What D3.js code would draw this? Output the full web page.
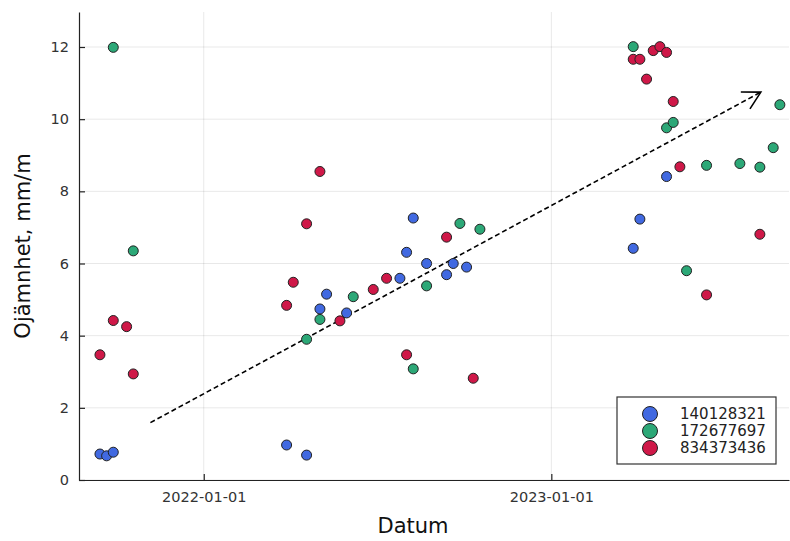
<!DOCTYPE html>
<html>
<head>
<meta charset="utf-8">
<script src="https://cdn.jsdelivr.net/npm/d3@7"></script>
<style>
  body { margin: 0; background: #fff; }
  svg text { font-family: "DejaVu Sans", sans-serif; }
</style>
</head>
<body>
<div class="chart"></div>
<script>
// series 140128321
const blueDates = ["2021-09-14","2021-09-21","2021-09-28","2022-03-29","2022-04-19","2022-05-03","2022-05-10","2022-05-31",
  "2022-07-26","2022-08-02","2022-08-09","2022-08-23","2022-09-13","2022-09-20","2022-10-04",
  "2023-03-28","2023-04-04","2023-05-02"]
const blueVals = [0.72,0.67,0.77,0.97,0.69,4.74,5.15,4.63,5.59,6.31,7.26,6.0,5.69,6.0,5.9,6.42,7.23,8.41]

// series 172677697
const greenDates = ["2021-09-28","2021-10-19","2022-04-19","2022-05-03","2022-06-07","2022-08-09","2022-08-23","2022-09-27","2022-10-18",
  "2023-03-28","2023-05-02","2023-05-09","2023-05-23","2023-06-13","2023-07-18","2023-08-08","2023-08-22","2023-08-29"]
const greenVals = [11.99,6.35,3.90,4.45,5.08,3.08,5.38,7.11,6.95,12.01,9.76,9.91,5.80,8.72,8.77,8.67,9.21,10.40]

// series 834373436
const redDates = ["2021-09-14","2021-09-28","2021-10-12","2021-10-19","2022-03-29","2022-04-05","2022-04-19","2022-05-03",
  "2022-05-24","2022-06-28","2022-07-12","2022-08-02","2022-09-13","2022-10-11",
  "2023-03-28","2023-04-04","2023-04-11","2023-04-18","2023-04-25","2023-05-02","2023-05-09","2023-05-16","2023-06-13","2023-08-08"]
const redVals = [3.47,4.42,4.25,2.94,4.84,5.48,7.10,8.55,4.41,5.28,5.59,3.47,6.73,2.82,
  11.66,11.66,11.11,11.90,12.01,11.85,10.49,8.68,5.13,6.81]

const seriesNames = ["140128321","172677697","834373436"]
const seriesColors = ["#4169e1","#2ca877","#cf1848"]

// trend arrow
const arrowDates = ["2021-11-06","2023-08-09"]
const arrowVals = [1.59,10.75]

const yTicks = [0,2,4,6,8,10,12]
const xTicks = ["2022-01-01","2023-01-01"]

const parse = d3.timeParse("%Y-%m-%d")

const W = 790, H = 541
const margin = { top: 12, right: 1, bottom: 61, left: 79 }
const width = W - margin.left - margin.right
const height = H - margin.top - margin.bottom

const x = d3.scaleTime()
  .domain([new Date(2021, 7, 23, 0), new Date(2023, 8, 7, 14)])
  .range([0, width])
const y = d3.scaleLinear().domain([0, 12.97]).range([height, 0])

const svg = d3.select('.chart').append('svg')
  .attr('width', W).attr('height', H)
const g = svg.append('g').attr('transform', `translate(${margin.left},${margin.top})`)

// grid
g.append('g').selectAll('line').data(yTicks).enter().append('line')
  .attr('x1', 0).attr('x2', width)
  .attr('y1', d => y(d)).attr('y2', d => y(d))
  .attr('stroke', '#000').attr('stroke-opacity', 0.09).attr('stroke-width', 1)
g.append('g').selectAll('line').data(xTicks).enter().append('line')
  .attr('x1', d => x(parse(d))).attr('x2', d => x(parse(d)))
  .attr('y1', 0).attr('y2', height)
  .attr('stroke', '#000').attr('stroke-opacity', 0.09).attr('stroke-width', 1)

// axes
const yAxis = d3.axisLeft(y).tickValues(yTicks).tickSizeInner(-6).tickSizeOuter(0).tickPadding(10)
const ya = g.append('g').call(yAxis)
const xAxis = d3.axisBottom(x).tickValues(xTicks.map(parse)).tickFormat(d3.timeFormat("%Y-%m-%d"))
  .tickSizeInner(-6).tickSizeOuter(0).tickPadding(12)
const xa = g.append('g').attr('transform', `translate(0,${height})`).call(xAxis)
;[ya, xa].forEach(a => {
  a.attr('font-family', null)
  a.select('.domain').attr('stroke', '#222').attr('stroke-width', 1.2)
  a.selectAll('.tick line').attr('stroke', '#222').attr('stroke-width', 1.2)
  a.selectAll('.tick text').attr('fill', '#333').attr('font-size', '14.5px')
})

// trend arrow
const ax1 = x(parse(arrowDates[0])), ay1 = y(arrowVals[0])
const ax2 = x(parse(arrowDates[1])), ay2 = y(arrowVals[1])
g.append('line')
  .attr('x1', ax1).attr('y1', ay1).attr('x2', ax2).attr('y2', ay2)
  .attr('stroke', '#000').attr('stroke-width', 1.6).attr('stroke-dasharray', '5,3')
const ang = Math.atan2(ay2 - ay1, ax2 - ax1)
const hl = 20, spread = 0.5
const head = [[ax2 - hl * Math.cos(ang - spread), ay2 - hl * Math.sin(ang - spread)],
  [ax2, ay2],
  [ax2 - hl * Math.cos(ang + spread), ay2 - hl * Math.sin(ang + spread)]]
g.append('path').attr('d', d3.line()(head))
  .attr('fill', 'none').attr('stroke', '#000').attr('stroke-width', 1.6)

// points
const series = [[blueDates, blueVals], [greenDates, greenVals], [redDates, redVals]]
series.forEach((s, i) => {
  const pts = s[0].map((d, j) => ({ date: parse(d), val: s[1][j] }))
  g.append('g').selectAll('circle').data(pts).enter().append('circle')
    .attr('cx', d => x(d.date)).attr('cy', d => y(d.val)).attr('r', 5)
    .attr('fill', seriesColors[i]).attr('stroke', '#222').attr('stroke-width', 1)
})

// axis labels
svg.append('text').attr('x', 413).attr('y', 533)
  .attr('text-anchor', 'middle').attr('font-size', '21px').attr('fill', '#111').text('Datum')
svg.append('text').attr('transform', `translate(30,${margin.top + height / 2}) rotate(-90)`)
  .attr('text-anchor', 'middle').attr('font-size', '21px').attr('fill', '#111').text('Ojämnhet, mm/m')

// legend
const lg = svg.append('g').attr('transform', 'translate(617,397)')
lg.append('rect').attr('width', 159).attr('height', 67)
  .attr('fill', '#fff').attr('stroke', '#333').attr('stroke-width', 1.2)
seriesNames.forEach((n, i) => {
  lg.append('circle').attr('cx', 33).attr('cy', 17 + i * 17).attr('r', 7.5)
    .attr('fill', seriesColors[i]).attr('stroke', '#222').attr('stroke-width', 1)
  lg.append('text').attr('x', 63).attr('y', 17 + i * 17).attr('dy', '0.36em')
    .attr('font-size', '15px').attr('fill', '#222').text(n)
})
</script>
</body>
</html>
